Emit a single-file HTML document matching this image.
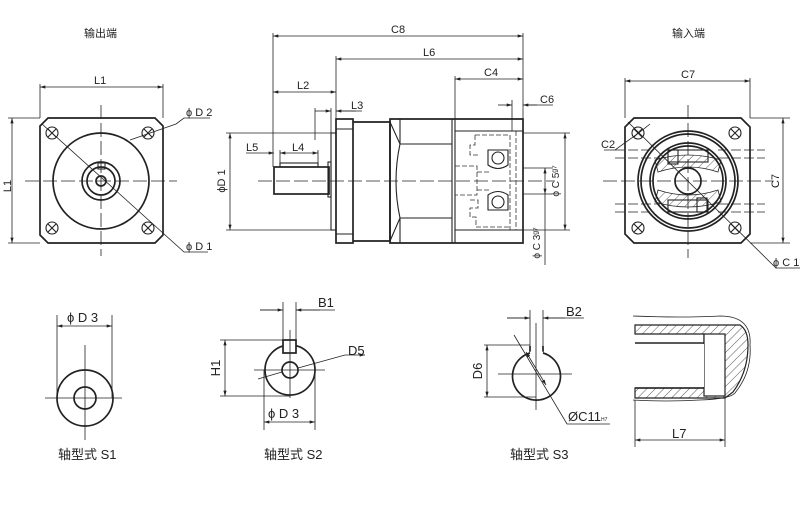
<!DOCTYPE html>
<html><head><meta charset="utf-8"><style>
html,body{margin:0;padding:0;background:#fff;}
svg{display:block;}
text{font-family:"Liberation Sans","Noto Sans CJK SC",sans-serif;fill:#222;}
</style></head><body>
<svg width="800" height="505" viewBox="0 0 800 505" xmlns="http://www.w3.org/2000/svg">
<defs>
<marker id="a" viewBox="0 0 10 6" refX="10" refY="3" markerWidth="8" markerHeight="4" orient="auto-start-reverse"><path d="M0,0 L10,3 L0,6 z" fill="#222"/></marker>
<pattern id="h" width="6" height="6" patternUnits="userSpaceOnUse" patternTransform="rotate(45)"><line x1="0" y1="0" x2="0" y2="6" stroke="#333" stroke-width="0.8"/></pattern>
</defs>
<g stroke="#222" fill="none" stroke-width="1.7">
<path d="M48,118 L155,118 L163,126 L163,235 L155,243 L48,243 L40,235 L40,126 Z"/>
<circle cx="101" cy="181" r="48"/>
<circle cx="101" cy="181" r="19"/>
<circle cx="101" cy="181" r="14"/>
<circle cx="101" cy="181" r="5"/>
<rect x="98" y="163" width="7" height="6" stroke-width="1"/>
<g stroke-width="1.1"><circle cx="52" cy="133" r="6"/><circle cx="148" cy="133" r="6"/><circle cx="52" cy="228" r="6"/><circle cx="148" cy="228" r="6"/>
<path d="M48,129l8,8M56,129l-8,8M144,129l8,8M152,129l-8,8M48,224l8,8M56,224l-8,8M144,224l8,8M152,224l-8,8"/></g>
</g>
<g stroke="#222" fill="none" stroke-width="0.8">
<path d="M25,181H177M101,105V256" stroke-dasharray="14,4"/>
<path d="M40,84V118M163,84V118"/>
<path d="M40,87H163" marker-start="url(#a)" marker-end="url(#a)"/>
<path d="M8,118H40M8,243H40"/>
<path d="M12,118V243" marker-start="url(#a)" marker-end="url(#a)"/>
<path d="M42,124L184,252H208"/>
<path d="M130,140L176,124L184,118H210"/>
<path d="M273,33V167M523,33V119M336,56V119M455,76V131M512,100V131M315,108V140M331,108V140"/>
<path d="M273,36H523" marker-start="url(#a)" marker-end="url(#a)"/>
<path d="M336,59H523" marker-start="url(#a)" marker-end="url(#a)"/>
<path d="M455,79H523" marker-start="url(#a)" marker-end="url(#a)"/>
<path d="M273,92H336" marker-start="url(#a)" marker-end="url(#a)"/>
<path d="M315,111H331" marker-end="url(#a)"/><path d="M356,111H336" marker-end="url(#a)"/><path d="M336,111H362"/>
<path d="M498,105H512" marker-end="url(#a)"/><path d="M537,105H523" marker-end="url(#a)"/><path d="M523,105H553"/>
<path d="M226,133H336M226,230H336"/>
<path d="M230,133V230" marker-start="url(#a)" marker-end="url(#a)"/>
<path d="M246,153H274" marker-end="url(#a)"/><path d="M280,153H318" marker-start="url(#a)" marker-end="url(#a)"/>
<path d="M280,150V163M318,150V163"/>
<path d="M258,181H555" stroke-dasharray="14,4"/>
<path d="M523,168H552M523,194H552M523,133H570M523,230H570"/>
<path d="M545,168V194" marker-start="url(#a)" marker-end="url(#a)"/>
<path d="M565,133V230" marker-start="url(#a)" marker-end="url(#a)"/>
<path d="M545,194V265"/>
</g>
<g stroke="#222" fill="none" stroke-width="1.7">
<rect x="274" y="167" width="55" height="27"/>
<rect x="280" y="163" width="38" height="4" stroke-width="1.1"/>
<rect x="328" y="162" width="3" height="35" stroke-width="1.1"/>
<rect x="331" y="133" width="5" height="97" stroke-width="1.1"/>
<rect x="336" y="119" width="17" height="124"/>
<path d="M353,122H390V241H353"/>
<path d="M390,119H523V243H390Z"/>
<path d="M336,129H353M336,234H353" stroke-width="1.1"/>
<path d="M390,122L400,144Q392,181 400,218L390,241M400,144H452M400,218H452M400,119V144M400,218V243" stroke-width="1.1"/>
<path d="M452,119V243M455,119V243M455,131H523M455,230H523" stroke-width="1.1"/>
</g>
<g stroke="#333" fill="none" stroke-width="0.8" stroke-dasharray="5,2">
<path d="M455,166H477V195H455M477,172H490M477,190H490"/>
<path d="M475,135H510V230M475,135V145H470V155H478M470,200H478V208H470V217H476V227H510"/>
<path d="M516,131V230"/>
</g>
<g stroke="#222" fill="none" stroke-width="1.1">
<circle cx="498" cy="158" r="6"/><circle cx="498" cy="202" r="6"/>
<path d="M488,150H508V165Q498,172 488,165ZM488,195Q498,188 508,195V210H488Z"/>
</g>
<g stroke="#222" fill="none" stroke-width="1.7">
<path d="M634,118H741L750,127V234L741,243H634L625,234V127Z"/>
<circle cx="688" cy="181" r="50"/>
<circle cx="688" cy="181" r="47"/>
<circle cx="688" cy="181" r="38"/>
<circle cx="688" cy="181" r="35"/>
<circle cx="688" cy="181" r="13"/>
<g stroke-width="1.1"><circle cx="638" cy="133" r="6"/><circle cx="735" cy="133" r="6"/><circle cx="638" cy="228" r="6"/><circle cx="735" cy="228" r="6"/>
<path d="M634,129l8,8M642,129l-8,8M731,129l8,8M739,129l-8,8M634,224l8,8M642,224l-8,8M731,224l8,8M739,224l-8,8"/>
<rect x="668" y="150" width="40" height="12"/><rect x="668" y="200" width="40" height="12"/>
<rect x="668" y="150" width="10" height="14"/><rect x="697" y="198" width="10" height="14"/>
</g>
<path d="M655,160Q688,150 721,160L718,172Q688,162 658,172ZM658,190Q688,200 718,190L721,202Q688,212 655,202Z" fill="url(#h)" stroke-width="0.8"/>
</g>
<g stroke="#222" fill="none" stroke-width="0.8">
<path d="M625,78V118M750,78V118"/>
<path d="M625,81H750" marker-start="url(#a)" marker-end="url(#a)"/>
<path d="M750,118H790M750,243H790"/>
<path d="M783,118V243" marker-start="url(#a)" marker-end="url(#a)"/>
<path d="M628,122L776,268H800"/>
<path d="M604,150H615L640,132M650,124L640,132"/>
<path d="M615,150H650M615,158H660M615,204H660M615,212H650M718,150H765M718,158H765M718,204H765M718,212H765" stroke-dasharray="10,3"/>
<path d="M603,181H773M688,105V258" stroke-dasharray="14,4"/>
</g>
<g stroke="#222" fill="none" stroke-width="1.7">
<circle cx="85" cy="398" r="28"/><circle cx="85" cy="398" r="11"/>
<circle cx="290" cy="370" r="25"/><circle cx="290" cy="370" r="8"/>
<rect x="283" y="340" width="13" height="13" fill="#fff"/>
<path d="M530,346V353A24,24 0 1,0 543,353V346"/>
<path d="M530,353A24,24 0 0,1 543,353" stroke="#fff" stroke-width="2.5"/>
</g>
<g stroke="#222" fill="none" stroke-width="0.8">
<path d="M45,398H122M85,345V440M57,315V398M112,315V398"/>
<path d="M57,326H112" marker-start="url(#a)" marker-end="url(#a)"/>
<path d="M254,370H325M290,330V398M283,302V340M296,302V340M260,310H283M296,310H335"/>
<path d="M283,310H260" marker-start="url(#a)"/><path d="M296,310H320" marker-start="url(#a)"/>
<path d="M220,340H283M220,396H290"/>
<path d="M225,340V396" marker-start="url(#a)" marker-end="url(#a)"/>
<path d="M264,370V430M315,370V430"/>
<path d="M264,422H315" marker-start="url(#a)" marker-end="url(#a)"/>
<path d="M258,379L282,372M298,368L345,355H365" marker-end="url(#a)"/>
<path d="M498,374H572M536,323V410M530,310V346M543,310V346M507,318H530M543,318H584"/>
<path d="M507,318H530" marker-end="url(#a)"/><path d="M565,318H543" marker-end="url(#a)"/>
<path d="M484,345H530M484,397H536"/>
<path d="M487,345V397" marker-start="url(#a)" marker-end="url(#a)"/>
<path d="M514,335L567,424H610"/>
<path d="M526,352L546,385" marker-start="url(#a)" marker-end="url(#a)"/>
<path d="M633,316Q680,318 720,316Q752,316 750,345Q752,372 735,393Q730,399 700,400Q665,402 633,400"/>
<path d="M635,400V447M725,396V447"/>
<path d="M635,440H725" marker-start="url(#a)" marker-end="url(#a)"/>
</g>
<g stroke="#222" stroke-width="1.2">
<path d="M635,325H740Q748,330 748,345Q748,372 733,392L725,398H635V388H704V334H635Z" fill="url(#h)"/>
<rect x="704" y="334" width="21" height="62" fill="#fff"/>
</g>
<rect x="635" y="344" width="69" height="43" fill="#fff"/>
<g stroke="#222" stroke-width="1.4"><path d="M635,343H704M635,388H704"/></g>
<g font-size="11">
<text x="84" y="37">输出端</text>
<text x="672" y="37">输入端</text>
<text x="94" y="84" font-size="11">L1</text>
<text x="11" y="186" font-size="11" transform="rotate(-90 11 186)" text-anchor="middle">L1</text>
<text x="186" y="116" font-size="11">ϕ D 2</text>
<text x="186" y="250" font-size="11">ϕ D 1</text>
<text x="391" y="33" font-size="11">C8</text>
<text x="423" y="56" font-size="11">L6</text>
<text x="484" y="76" font-size="11">C4</text>
<text x="297" y="89" font-size="11">L2</text>
<text x="351" y="109" font-size="11">L3</text>
<text x="540" y="103" font-size="11">C6</text>
<text x="246" y="151" font-size="11">L5</text>
<text x="292" y="151" font-size="11">L4</text>
<text x="225" y="181" font-size="11" transform="rotate(-90 225 181)" text-anchor="middle">ϕD 1</text>
<text x="559" y="181" font-size="10" transform="rotate(-90 559 181)" text-anchor="middle">ϕ C 5ᵍ⁷</text>
<text x="540" y="243" font-size="10" transform="rotate(-90 540 243)" text-anchor="middle">ϕ C 3ᵍ⁷</text>
<text x="681" y="78" font-size="11">C7</text>
<text x="779" y="181" font-size="11" transform="rotate(-90 779 181)" text-anchor="middle">C7</text>
<text x="601" y="148" font-size="11">C2</text>
<text x="773" y="266" font-size="11">ϕ C 1</text>
<text x="67" y="322" font-size="13">ϕ D 3</text>
<text x="58" y="459" font-size="13">轴型式 S1</text>
<text x="318" y="307" font-size="13">B1</text>
<text x="348" y="355" font-size="13">D5</text>
<text x="220" y="368" font-size="13" transform="rotate(-90 220 368)" text-anchor="middle">H1</text>
<text x="268" y="418" font-size="13">ϕ D 3</text>
<text x="264" y="459" font-size="13">轴型式 S2</text>
<text x="566" y="316" font-size="13">B2</text>
<text x="482" y="371" font-size="13" transform="rotate(-90 482 371)" text-anchor="middle">D6</text>
<text x="568" y="421" font-size="13">ØC11<tspan font-size="5">H7</tspan></text>
<text x="510" y="459" font-size="13">轴型式 S3</text>
<text x="672" y="438" font-size="13">L7</text>
</g>
</svg>
</body></html>
